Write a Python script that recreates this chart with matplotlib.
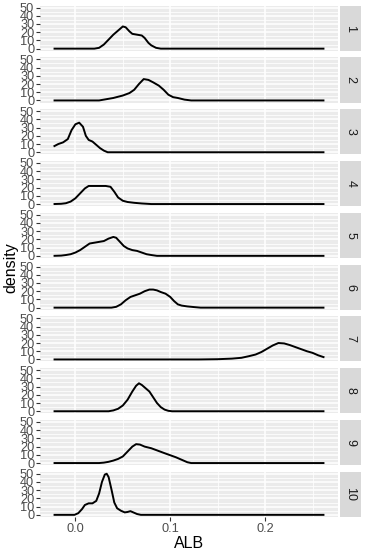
import numpy as np
import matplotlib
matplotlib.use('Agg')
import matplotlib.pyplot as plt

plt.rcParams['font.family'] = ['Liberation Sans', 'DejaVu Sans']

# density curves, one (x, y) list per facet
facets = ['1', '2', '3', '4', '5', '6', '7', '8', '9', '10']

x1 = [-0.023, 0.020, 0.025, 0.030, 0.035, 0.040, 0.045, 0.050, 0.053, 0.057, 0.060, 0.065, 0.070, 0.073, 0.077, 0.080, 0.085, 0.090, 0.2625]
y1 = [0, 0, 1, 5, 11, 17, 22, 27, 26, 21, 18, 17, 16, 13, 7, 4, 1, 0, 0]

x2 = [-0.023, 0.025, 0.030, 0.040, 0.050, 0.057, 0.062, 0.067, 0.072, 0.077, 0.082, 0.088, 0.093, 0.098, 0.103, 0.108, 0.115, 0.122, 0.2625]
y2 = [0, 0, 1, 3, 6, 9, 13, 20, 26, 25, 22, 18, 13, 7, 4, 3, 1, 0, 0]

x3 = [-0.023, -0.018, -0.013, -0.008, -0.004, 0.000, 0.004, 0.008, 0.011, 0.014, 0.018, 0.022, 0.026, 0.030, 0.034, 0.2625]
y3 = [7, 10, 12, 16, 27, 34, 36, 31, 20, 15, 13, 9, 5, 2, 0, 0]

x4 = [-0.023, -0.015, -0.010, -0.005, 0.000, 0.005, 0.010, 0.014, 0.020, 0.026, 0.032, 0.037, 0.041, 0.045, 0.050, 0.055, 0.062, 0.070, 0.080, 0.2625]
y4 = [0, 0.3, 1, 3, 7, 13, 19, 22, 22, 22, 22, 21, 15, 8, 4, 2.5, 1.5, 0.7, 0, 0]

x5 = [-0.023, -0.015, -0.010, -0.005, 0.000, 0.005, 0.010, 0.015, 0.020, 0.025, 0.030, 0.035, 0.040, 0.043, 0.047, 0.051, 0.055, 0.060, 0.065, 0.070, 0.075, 0.080, 0.086, 0.2625]
y5 = [0, 0.3, 1, 2, 4, 7, 11, 15, 16, 17, 18, 21, 23, 22, 17, 12, 9, 7, 6, 4, 2, 1, 0, 0]

x6 = [-0.023, 0.038, 0.043, 0.048, 0.053, 0.058, 0.063, 0.068, 0.073, 0.078, 0.082, 0.086, 0.090, 0.095, 0.100, 0.104, 0.108, 0.112, 0.118, 0.125, 0.132, 0.2625]
y6 = [0, 0, 1, 4, 9, 13, 15, 17, 20, 22, 22, 21, 19, 17, 13, 8, 4, 2.5, 1.5, 0.7, 0, 0]

x7 = [-0.023, 0.130, 0.150, 0.165, 0.175, 0.183, 0.190, 0.196, 0.202, 0.208, 0.214, 0.220, 0.226, 0.232, 0.238, 0.244, 0.250, 0.256, 0.2625]
y7 = [0, 0, 0.3, 1, 2, 4, 6, 9, 13, 17, 20, 19.5, 17.5, 15, 12.5, 10, 8, 5, 2.5]

x8 = [-0.023, 0.035, 0.040, 0.045, 0.050, 0.055, 0.060, 0.064, 0.067, 0.070, 0.074, 0.078, 0.082, 0.086, 0.090, 0.094, 0.098, 0.102, 0.2625]
y8 = [0, 0, 1, 3, 7, 14, 24, 31, 34, 32, 28, 24, 17, 10, 5, 2, 0.5, 0, 0]

x9 = [-0.023, 0.025, 0.030, 0.035, 0.040, 0.045, 0.050, 0.055, 0.060, 0.064, 0.068, 0.073, 0.080, 0.087, 0.094, 0.100, 0.106, 0.112, 0.118, 0.122, 0.2625]
y9 = [0, 0, 0.5, 1.5, 3, 5, 8, 14, 20, 23, 22.5, 20, 18, 15, 12, 9.5, 7, 4, 1, 0, 0]

x10 = [-0.023, -0.001, 0.003, 0.007, 0.010, 0.014, 0.018, 0.022, 0.025, 0.028, 0.031, 0.033, 0.035, 0.038, 0.041, 0.044, 0.048, 0.052, 0.055, 0.058, 0.061, 0.065, 0.069, 0.2625]
y10 = [0, 0, 2, 7, 12, 14, 14, 17, 26, 40, 49, 50, 46, 31, 15, 8, 5, 3, 3.5, 4.5, 3, 1, 0, 0]

curves = [(x1, y1), (x2, y2), (x3, y3), (x4, y4), (x5, y5),
          (x6, y6), (x7, y7), (x8, y8), (x9, y9), (x10, y10)]

x_ticks = [0.0, 0.1, 0.2]
x_tick_labels = ['0.0', '0.1', '0.2']
y_ticks = [0, 10, 20, 30, 40, 50]

W, H = 367, 550
fig = plt.figure(figsize=(W / 100, H / 100), dpi=100)

panel_bg = '#EBEBEB'
strip_bg = '#D9D9D9'
left, right = 40, 338
top0, pitch, ph = 5.5, 51.8, 45.2

xlim = (-0.0373, 0.2768)
ylim = (-2.5, 52.5)

for i, (name, (xs, ys)) in enumerate(zip(facets, curves)):
    top = top0 + i * pitch
    ax = fig.add_axes([left / W, 1 - (top + ph) / H, (right - left) / W, ph / H])
    ax.set_facecolor(panel_bg)
    ax.set_xlim(*xlim)
    ax.set_ylim(*ylim)
    for sp in ax.spines.values():
        sp.set_visible(False)
    ax.set_xticks(x_ticks)
    ax.set_xticks([0.05, 0.15, 0.25], minor=True)
    ax.set_yticks(y_ticks)
    ax.set_yticks([5, 15, 25, 35, 45], minor=True)
    ax.grid(which='major', color='white', lw=1.1)
    ax.grid(which='minor', color='white', lw=0.55)
    ax.set_axisbelow(True)
    ax.tick_params(which='minor', length=0)
    ax.tick_params(which='major', length=2.7, width=0.8, color='#333333',
                   labelsize=9.2, labelcolor='#4D4D4D', pad=1.5)
    ax.set_yticklabels([str(v) for v in y_ticks])
    if i == len(facets) - 1:
        ax.set_xticklabels(x_tick_labels)
    else:
        ax.tick_params(axis='x', length=0, labelbottom=False)
    ax.plot(xs, ys, color='black', lw=1.4, solid_capstyle='butt')

    sax = fig.add_axes([340 / W, 1 - (top + ph) / H, 21 / W, ph / H])
    sax.set_facecolor(strip_bg)
    sax.set_xticks([])
    sax.set_yticks([])
    for sp in sax.spines.values():
        sp.set_visible(False)
    sax.text(0.5, 0.5, name, rotation=-90, ha='center', va='center',
             fontsize=9, color='#1A1A1A', transform=sax.transAxes)

fig.text(((left + right) / 2) / W, 1 - 543 / H, 'ALB', ha='center', va='center',
         fontsize=11.5, color='black')
fig.text(11 / W, 1 - 268 / H, 'density', rotation=90, ha='center', va='center',
         fontsize=11.5, color='black')

fig.savefig('out.png', dpi=100)
